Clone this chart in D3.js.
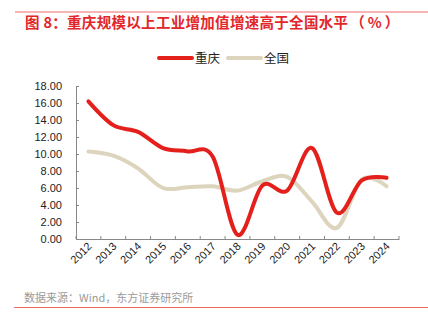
<!DOCTYPE html>
<html>
<head>
<meta charset="utf-8">
<script src="https://cdn.jsdelivr.net/npm/d3@7"></script>
<style>
	body { margin: 0; background: #fff; font-family: "Noto Sans CJK SC", "Noto Sans", sans-serif; }
	svg { display: block; }
</style>
</head>
<body>
<script>
	// DATA
	const years = ['2012', '2013', '2014', '2015', '2016', '2017', '2018', '2019', '2020', '2021', '2022', '2023', '2024'];
	const chongqing = [16.2, 13.4, 12.6, 10.7, 10.3, 9.7, 0.5, 6.3, 5.7, 10.7, 3.1, 6.9, 7.2];
	const national = [10.3, 9.8, 8.3, 6.0, 6.1, 6.2, 5.7, 6.8, 7.3, 4.4, 1.3, 7.0, 6.2];
	const yTicks = [0, 2, 4, 6, 8, 10, 12, 14, 16, 18];
	const series = [
		{ name: '重庆', values: chongqing, color: '#e3201b' },
		{ name: '全国', values: national, color: '#ddd4bd' }
	];

	// CONFIGURATION
	const width = 428;
	const height = 326;
	const plot = { left: 76, right: 399, top: 86, bottom: 239 };

	const svg = d3.select('body')
		.append('svg')
		.attr('width', width)
		.attr('height', height);

	// FRAME LINES & TITLE
	svg.append('line')
		.attr('x1', 15).attr('x2', width)
		.attr('y1', 12).attr('y2', 12)
		.attr('stroke', '#ee6b6b').attr('stroke-width', 1);
	svg.append('line')
		.attr('x1', 14).attr('x2', width)
		.attr('y1', 307.5).attr('y2', 307.5)
		.attr('stroke', '#ee6b6b').attr('stroke-width', 1);

	const title = svg.append('text')
		.attr('x', 25)
		.attr('y', 28)
		.attr('fill', '#e3262a')
		.attr('font-size', 14.5)
		.attr('font-weight', 'bold');
	title.append('tspan')
		.attr('textLength', 323)
		.attr('lengthAdjust', 'spacing')
		.text('图 8：重庆规模以上工业增加值增速高于全国水平');
	title.append('tspan').attr('dx', 2).text('（');
	title.append('tspan').attr('dx', 3).text('%');
	title.append('tspan').attr('dx', 3).text('）');

	svg.append('text')
		.attr('x', 24)
		.attr('y', 302)
		.attr('fill', '#9a9a9a')
		.attr('font-size', 11)
		.text('数据来源：Wind，东方证券研究所');

	// LEGEND
	const legendItems = [
		{ x: 159, item: series[0] },
		{ x: 228, item: series[1] }
	];
	legendItems.forEach(d => {
		svg.append('line')
			.attr('x1', d.x).attr('x2', d.x + 33)
			.attr('y1', 58).attr('y2', 58)
			.attr('stroke', d.item.color)
			.attr('stroke-width', 4)
			.attr('stroke-linecap', 'round');
		svg.append('text')
			.attr('x', d.x + 36)
			.attr('y', 62.5)
			.attr('font-size', 12.5)
			.attr('fill', '#222')
			.text(d.item.name);
	});

	// SCALES
	const xScale = d3.scaleBand()
		.domain(years)
		.range([plot.left, plot.right]);
	const yScale = d3.scaleLinear()
		.domain([0, 18])
		.range([plot.bottom, plot.top]);

	// AXES
	const xAxis = svg.append('g')
		.attr('transform', `translate(0, ${plot.bottom})`)
		.call(d3.axisBottom(xScale).tickSize(0).tickPadding(0));
	xAxis.select('.domain').attr('stroke', '#888');
	// inner ticks at band edges
	const edges = years.map(y => xScale(y)).concat([plot.right]);
	xAxis.selectAll('.edge')
		.data(edges)
		.enter()
		.append('line')
		.attr('x1', d => d).attr('x2', d => d)
		.attr('y1', 0).attr('y2', -3)
		.attr('stroke', '#888');
	xAxis.selectAll('.tick text')
		.attr('font-size', 11)
		.attr('fill', '#222')
		.attr('font-family', 'Liberation Sans, Arial, sans-serif')
		.attr('text-anchor', 'end')
		.attr('dy', null)
		.attr('transform', 'translate(4, 8) rotate(-45)');

	const yAxis = svg.append('g')
		.attr('transform', `translate(${plot.left}, 0)`)
		.call(d3.axisLeft(yScale).tickValues(yTicks).tickSize(-3).tickPadding(14).tickFormat(d => d.toFixed(2)));
	yAxis.select('.domain').attr('stroke', '#888');
	yAxis.selectAll('.tick line').attr('stroke', '#888');
	yAxis.selectAll('.tick text')
		.attr('font-size', 11)
		.attr('fill', '#222')
		.attr('font-family', 'Liberation Sans, Arial, sans-serif');

	// LINES
	const line = d3.line()
		.x((d, i) => xScale(years[i]) + xScale.bandwidth() / 2)
		.y(d => yScale(d))
		.curve(d3.curveCardinal.tension(0));

	svg.selectAll('.series')
		.data([series[1], series[0]])
		.enter()
		.append('path')
		.attr('d', d => line(d.values))
		.attr('fill', 'none')
		.attr('stroke', d => d.color)
		.attr('stroke-width', 4)
		.attr('stroke-linecap', 'round');
</script>
</body>
</html>
